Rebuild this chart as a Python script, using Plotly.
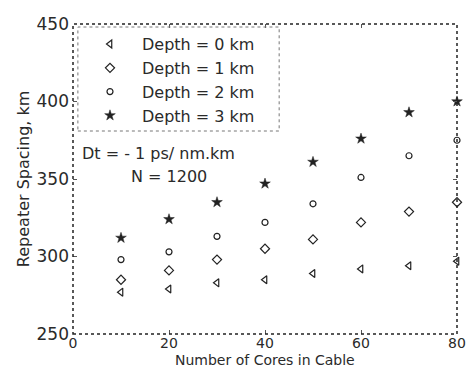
import plotly.graph_objects as go

cores = [10, 20, 30, 40, 50, 60, 70, 80]
depth0 = [277, 279, 283, 285, 289, 292, 294, 297]
depth1 = [285, 291, 298, 305, 311, 322, 329, 335]
depth2 = [298, 303, 313, 322, 334, 351, 365, 375]
depth3 = [312, 324, 335, 347, 361, 376, 393, 400]

names = ["Depth = 0 km", "Depth = 1 km", "Depth = 2 km", "Depth = 3 km"]
series = [depth0, depth1, depth2, depth3]
symbols = ["triangle-left-open", "diamond-open", "circle-open", "star"]
sizes = [7, 7, 6, 8]

FONT = "DejaVu Sans"
TXT = "#2a2a2a"

fig = go.Figure()
for i, (nm, ys) in enumerate(zip(names, series)):
    fig.add_trace(go.Scatter(
        x=cores, y=ys, mode="markers", name=nm, legendgroup=nm,
        cliponaxis=False,
        marker=dict(symbol=symbols[i], size=sizes[i], color="#222",
                    line=dict(color="#222", width=1.2 if i < 3 else 0.5)),
    ))

fig.update_layout(
    width=476, height=369,
    margin=dict(l=73, r=10, t=24, b=35),
    paper_bgcolor="white", plot_bgcolor="white",
    font=dict(family=FONT, size=16, color=TXT),
    showlegend=True,
    legend=dict(x=0.013, y=0.99, xanchor="left", yanchor="top",
                bgcolor="rgba(255,255,255,0)", borderwidth=0,
                itemwidth=54, tracegroupgap=0,
                font=dict(family=FONT, size=16, color=TXT)),
    xaxis=dict(range=[0, 80], tickvals=[0, 20, 40, 60, 80],
               showgrid=False, zeroline=False, showline=False,
               ticks="inside", ticklen=4, tickcolor="#555", mirror="ticks",
               ticklabeloverflow="allow", ticklabelstandoff=-1,
               tickfont=dict(family=FONT, size=14, color=TXT)),
    yaxis=dict(range=[250, 450], tickvals=[250, 300, 350, 400, 450],
               showgrid=False, zeroline=False, showline=False,
               ticks="inside", ticklen=4, tickcolor="#555", mirror="ticks",
               ticklabelstandoff=3, ticklabeloverflow="allow",
               tickfont=dict(family=FONT, size=17, color=TXT)),
)

# axes frame (dotted, as in the scanned original)
fig.add_shape(type="rect", xref="paper", yref="paper", x0=0, y0=0, x1=1, y1=1,
              line=dict(color="#222", width=1.5, dash="dot"))
# legend box
fig.add_shape(type="rect", xref="paper", yref="paper",
              x0=5/393, x1=211/393, y0=(334-131)/310, y1=(334-27)/310,
              line=dict(color="#777", width=1, dash="dot"))

fig.add_annotation(xref="paper", yref="paper", x=7/393, y=(334-153)/310,
                   xanchor="left", yanchor="middle", showarrow=False,
                   text="Dt = - 1 ps/ nm.km", font=dict(family=FONT, size=16, color=TXT))
fig.add_annotation(xref="paper", yref="paper", x=57/393, y=(334-176)/310,
                   xanchor="left", yanchor="middle", showarrow=False,
                   text="N = 1200", font=dict(family=FONT, size=16, color=TXT))

fig.add_annotation(xref="paper", yref="paper", x=0.5, y=-26/310,
                   xanchor="center", yanchor="middle", showarrow=False,
                   text="Number of Cores in Cable", font=dict(family=FONT, size=14, color=TXT))
fig.add_annotation(xref="paper", yref="paper", x=-51/393, y=0.5,
                   xanchor="center", yanchor="middle", showarrow=False, textangle=-90,
                   text="Repeater Spacing, km", font=dict(family=FONT, size=16, color=TXT))

fig.write_html("out.html", config={"displayModeBar": False},
               post_script="document.body.style.margin='0';")
